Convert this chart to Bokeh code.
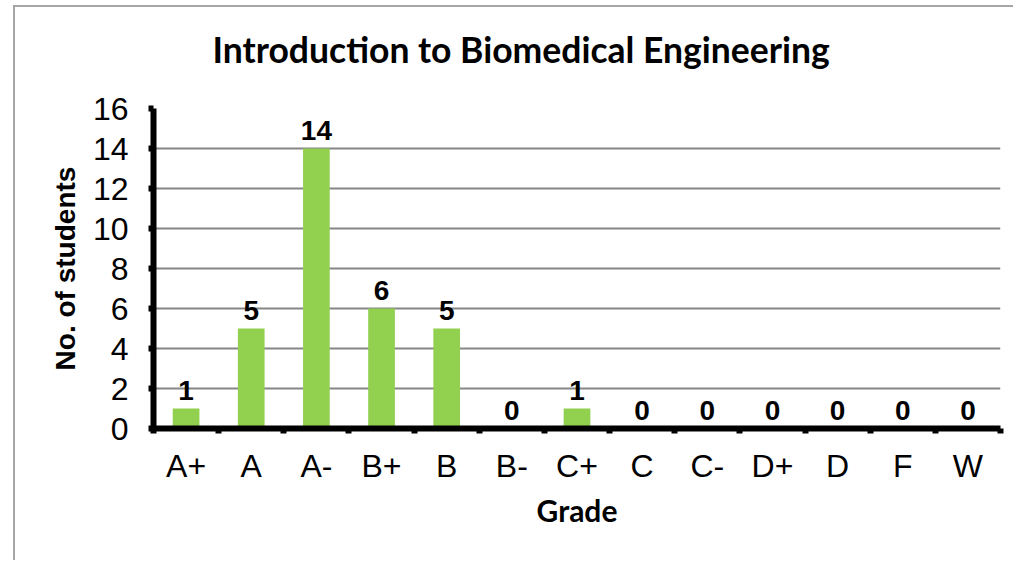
from bokeh.plotting import figure
from bokeh.models import Range1d, FixedTicker, ColumnDataSource, Title
from bokeh.core.properties import value
from bokeh.embed import file_html
from bokeh.resources import INLINE

grades = ["A+", "A", "A-", "B+", "B", "B-", "C+", "C", "C-", "D+", "D", "F", "W"]
students = [1, 5, 14, 6, 5, 0, 1, 0, 0, 0, 0, 0, 0]
y_ticks = [0, 2, 4, 6, 8, 10, 12, 14, 16]

xpos = [i + 0.5 for i in range(len(grades))]
src = ColumnDataSource(dict(x=xpos, top=students, lbl=[str(v) for v in students]))

p = figure(width=1000, height=555, output_backend="svg", toolbar_location=None,
           x_range=Range1d(0, len(grades)), y_range=Range1d(0, 16),
           min_border_left=138, min_border_right=15, min_border_top=101, min_border_bottom=134)
p.styles = {"margin-left": "13px", "margin-top": "5px",
            "border-left": "2px solid #a6a6a6", "border-top": "2px solid #a6a6a6"}

p.vbar(x="x", top="top", width=0.41, bottom=0, source=src, fill_color="#92D050", line_color=None)
p.text(x="x", y="top", text="lbl", source=src, text_align="center", text_baseline="alphabetic",
       y_offset=-18, text_font=value("Liberation Sans"), text_font_style="bold",
       text_font_size="28px", text_color="black")

p.outline_line_color = None
p.background_fill_color = "white"
p.border_fill_color = "white"
p.xgrid.visible = False
p.ygrid.grid_line_color = "#868686"
p.ygrid.grid_line_width = 2

# y axis
ya = p.yaxis[0]
ya.ticker = FixedTicker(ticks=y_ticks)
ya.axis_line_width = 6
ya.major_tick_line_width = 6
ya.major_tick_out = 5
ya.major_tick_in = 0
ya.minor_tick_line_color = None
ya.major_label_standoff = 20
ya.major_label_text_font = "Liberation Sans"
ya.major_label_text_font_size = "32px"
ya.major_label_text_color = "black"
ya.axis_label = "No. of students"
ya.axis_label_text_font = "Liberation Sans"
ya.axis_label_text_font_style = "bold"
ya.axis_label_text_font_size = "28px"
ya.axis_label_text_color = "black"
ya.axis_label_standoff = 9

# x axis: labels at centers, tick marks at category boundaries (minor ticks)
xa = p.xaxis[0]
xa.ticker = FixedTicker(ticks=xpos, minor_ticks=list(range(len(grades) + 1)))
xa.major_label_overrides = {x: g for x, g in zip(xpos, grades)}
xa.axis_line_width = 6
xa.major_tick_line_color = None
xa.major_tick_out = 0
xa.major_tick_in = 0
xa.minor_tick_line_width = 6
xa.minor_tick_out = 5
xa.minor_tick_in = 0
xa.minor_tick_line_color = "black"
xa.major_label_standoff = 14
xa.major_label_text_font = "Liberation Sans"
xa.major_label_text_font_size = "32px"
xa.major_label_text_color = "black"
xa.axis_label = "Grade"
xa.axis_label_text_font = "Lato"
xa.axis_label_text_font_style = "bold"
xa.axis_label_text_font_size = "30px"
xa.axis_label_text_color = "black"
xa.axis_label_standoff = 5

# spacer between title and frame
p.add_layout(Title(text=" ", text_font_size="1px", standoff=18), "above")

p.title.text = "Introduction to Biomedical Engineering"
p.title.text_font = "Lato"
p.title.text_font_style = "bold"
p.title.text_font_size = "35.5px"
p.title.text_color = "black"
p.title.align = "left"
p.title.offset = 59
p.title.standoff = 34

open("out.html", "w").write(file_html(p, INLINE))
